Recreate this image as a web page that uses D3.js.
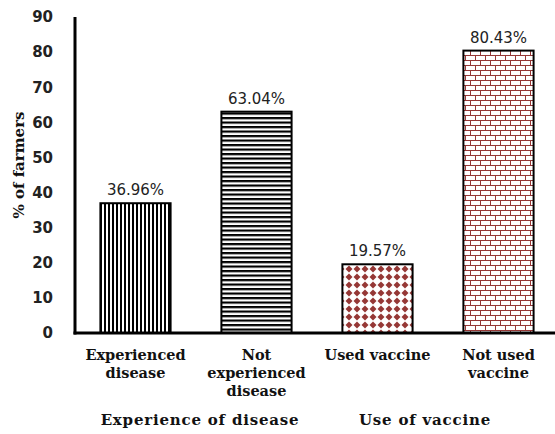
<!DOCTYPE html>
<html><head><meta charset="utf-8">
<script src="https://cdn.jsdelivr.net/npm/d3@7"></script>
<style>body{margin:0;background:#fff}svg{display:block}</style>
</head><body>
<script>
const categories = [["Experienced","disease"],["Not","experienced","disease"],["Used vaccine"],["Not used","vaccine"]];
const values = [36.96, 63.04, 19.57, 80.43];
const valueLabels = ["36.96%","63.04%","19.57%","80.43%"];
const patterns = ["vstripe","hstripe","diamond","brick"];
const groups = [{label:"Experience of disease", cats:[0,1]},{label:"Use of vaccine", cats:[2,3]}];
const yTicks = [0,10,20,30,40,50,60,70,80,90];

const W=555,H=434;
const svg=d3.select("body").append("svg").attr("width",W).attr("height",H);
const defs=svg.append("defs");
const red="#953735";
let p=defs.append("pattern").attr("id","vstripe").attr("patternUnits","userSpaceOnUse").attr("width",4).attr("height",4);
p.append("rect").attr("width",4).attr("height",4).attr("fill","#fff");
p.append("rect").attr("width",2).attr("height",4).attr("fill","#000");
p=defs.append("pattern").attr("id","hstripe").attr("patternUnits","userSpaceOnUse").attr("width",4).attr("height",4.5);
p.append("rect").attr("width",4).attr("height",4.5).attr("fill","#fff");
p.append("rect").attr("width",4).attr("height",2.2).attr("fill","#000");
p=defs.append("pattern").attr("id","diamond").attr("patternUnits","userSpaceOnUse").attr("width",8).attr("height",8).attr("x",1).attr("y",1);
p.append("rect").attr("width",8).attr("height",8).attr("fill","#fff");
p.append("path").attr("d","M4,0.5L7.5,4L4,7.5L0.5,4Z").attr("fill",red);
p=defs.append("pattern").attr("id","brick").attr("patternUnits","userSpaceOnUse").attr("width",10).attr("height",10);
p.append("rect").attr("width",10).attr("height",10).attr("fill","#fff");
p.append("path").attr("d","M0,0.5H10M0,5.5H10M0.5,0V5M5.5,5V10").attr("stroke",red).attr("stroke-width",1).attr("fill","none");

const x=d3.scaleBand().domain(d3.range(values.length)).range([75,559]).paddingInner(0.42).paddingOuter(0.21);
const y=d3.scaleLinear().domain([0,90]).range([333,17]);

svg.selectAll("rect.bar").data(values).enter().append("rect").attr("class","bar")
 .attr("x",(d,i)=>x(i)).attr("width",x.bandwidth())
 .attr("y",d=>y(d)).attr("height",d=>y(0)-y(d))
 .attr("fill",(d,i)=>`url(#${patterns[i]})`).attr("stroke","#000").attr("stroke-width",2);

const yAxis=svg.append("g").attr("transform","translate(75,0)").call(d3.axisLeft(y).tickValues(yTicks).tickSize(0).tickPadding(22));
yAxis.select(".domain").remove();
yAxis.selectAll("text").attr("font-family","DejaVu Sans").attr("font-weight","bold").attr("font-size",15).attr("fill","#222");
svg.append("line").attr("x1",75).attr("x2",75).attr("y1",y(90)).attr("y2",y(0)+1.5).attr("stroke","#000").attr("stroke-width",3);
svg.append("line").attr("x1",73.5).attr("x2",W).attr("y1",y(0)).attr("y2",y(0)).attr("stroke","#000").attr("stroke-width",3);

svg.selectAll("text.val").data(values).enter().append("text").attr("class","val")
 .attr("x",(d,i)=>x(i)+x.bandwidth()/2).attr("y",d=>y(d)-8)
 .attr("text-anchor","middle").attr("font-family","DejaVu Sans").attr("font-size",15).attr("fill","#222")
 .text((d,i)=>valueLabels[i]);

categories.forEach((lines,i)=>{
  const t=svg.append("text").attr("text-anchor","middle").attr("font-family","DejaVu Serif").attr("font-weight","bold").attr("font-size",14.5).attr("fill","#111");
  lines.forEach((l,j)=>t.append("tspan").attr("x",x(i)+x.bandwidth()/2).attr("y",360+j*18).text(l));
});
groups.forEach((g,k)=>{
  svg.append("text").attr("x",[200,425][k]).attr("y",425).attr("text-anchor","middle")
   .attr("font-family","DejaVu Serif").attr("font-weight","bold").attr("font-size",15).attr("letter-spacing",0.8).attr("fill","#111").text(g.label);
});
svg.append("text").attr("transform","translate(24,165) rotate(-90)").attr("text-anchor","middle")
 .attr("font-family","DejaVu Serif").attr("font-weight","bold").attr("font-size",15).attr("fill","#111").text("% of farmers");
</script>
</body></html>
